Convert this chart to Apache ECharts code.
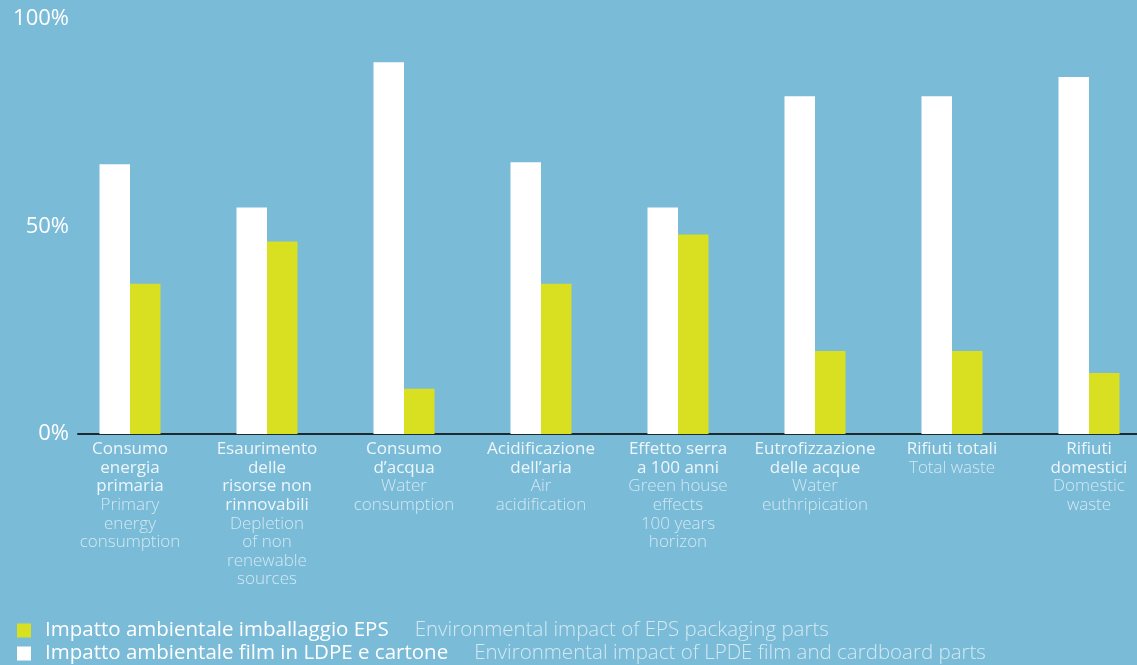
<!DOCTYPE html>
<html>
<head>
<meta charset="utf-8">
<script src="https://cdn.jsdelivr.net/npm/echarts@6/dist/echarts.min.js"></script>
<style>
html,body{margin:0;padding:0;background:#7abbd8;}
#chart{width:1137px;height:665px;}
</style>
</head>
<body>
<div id="chart"></div>
<script>
const categoriesIt = [
  'Consumo\nenergia\nprimaria',
  'Esaurimento\ndelle\nrisorse non\nrinnovabili',
  'Consumo\nd’acqua',
  'Acidificazione\ndell’aria',
  'Effetto serra\na 100 anni',
  'Eutrofizzazione\ndelle acque',
  'Rifiuti totali',
  'Rifiuti\ndomestici'
];
const categoriesEn = [
  'Primary\nenergy\nconsumption',
  'Depletion\nof non\nrenewable\nsources',
  'Water\nconsumption',
  'Air\nacidification',
  'Green house\neffects\n100 years\nhorizon',
  'Water\neuthripication',
  'Total waste',
  'Domestic\nwaste'
];
const ldpeValues = [65, 54.6, 89.6, 65.5, 54.6, 81.4, 81.4, 86];
const epsValues = [36.2, 46.4, 10.9, 36.2, 48.1, 20, 20, 14.7];
const yTicks = [0, 50, 100];
const seriesNamesIt = ['Impatto ambientale imballaggio EPS', 'Impatto ambientale film in LDPE e cartone'];
const seriesNamesEn = ['Environmental impact of EPS packaging parts', 'Environmental impact of LPDE film and cardboard parts'];

const FONT = '"Open Sans", sans-serif';
const chart = echarts.init(document.getElementById('chart'));
const enByName = {};
seriesNamesIt.forEach((n, i) => enByName[n] = seriesNamesEn[i]);

chart.setOption({
  backgroundColor: '#7abbd8',
  animation: false,
  textStyle: { fontFamily: FONT },
  legend: {
    data: [seriesNamesIt[0], seriesNamesIt[1]],
    orient: 'vertical',
    left: 17,
    top: 620,
    padding: 0,
    icon: 'rect',
    itemWidth: 14,
    itemHeight: 14,
    itemGap: 2,
    selectedMode: false,
    formatter: name => '{a|' + name + '}{b|' + enByName[name] + '}',
    textStyle: {
      rich: {
        a: { color: '#ffffff', fontSize: 20.5, lineHeight: 20, fontFamily: FONT, fontWeight: 500, padding: [0, 0, 0, 9] },
        b: { color: '#d3e8f2', fontSize: 20.5, lineHeight: 20, fontFamily: FONT, fontWeight: 300, padding: [0, 0, 0, 26] }
      }
    }
  },
  grid: [
    { left: 61.5, top: 19, width: 1096, height: 415, outerBoundsMode: 'none', containLabel: false },
    { left: 78, right: 0, top: 19, height: 415, outerBoundsMode: 'none', containLabel: false }
  ],
  xAxis: [
    {
      type: 'category',
      gridIndex: 0,
      data: categoriesIt.map((c, i) => i),
      axisLine: { show: false },
      axisTick: { show: false },
      axisLabel: {
        interval: 0,
        hideOverlap: false,
        margin: 6,
        align: 'center',
        verticalAlign: 'top',
        formatter: (v, i) => '{a|' + categoriesIt[i] + '}\n{b|' + categoriesEn[i] + '}',
        rich: {
          a: { color: '#eef6fa', fontSize: 17, lineHeight: 18.6, fontFamily: FONT, fontWeight: 400, align: 'center' },
          b: { color: '#d3e8f2', fontSize: 17, lineHeight: 18.6, fontFamily: FONT, fontWeight: 300, align: 'center' }
        }
      }
    },
    {
      type: 'value',
      gridIndex: 1,
      min: 0,
      max: 1,
      axisLine: { show: true, onZero: false, lineStyle: { color: '#1f2a30', width: 2 } },
      axisTick: { show: false },
      axisLabel: { show: false },
      splitLine: { show: false }
    }
  ],
  yAxis: [
    { type: 'value', gridIndex: 0, min: 0, max: 100, show: false },
    {
      type: 'value',
      gridIndex: 1,
      min: yTicks[0],
      max: yTicks[yTicks.length - 1],
      interval: 50,
      axisLine: { show: false },
      axisTick: { show: false },
      splitLine: { show: false },
      axisLabel: {
        margin: 9,
        formatter: '{value}%',
        color: '#ffffff',
        fontSize: 22,
        fontWeight: 500,
        fontFamily: FONT
      }
    }
  ],
  series: [
    {
      name: seriesNamesIt[1],
      type: 'bar',
      xAxisIndex: 0,
      yAxisIndex: 0,
      data: ldpeValues,
      barWidth: 30.5,
      barGap: '0%',
      itemStyle: { color: '#ffffff' }
    },
    {
      name: seriesNamesIt[0],
      type: 'bar',
      xAxisIndex: 0,
      yAxisIndex: 0,
      data: epsValues,
      barWidth: 30.5,
      barGap: '0%',
      itemStyle: { color: '#d9e021' }
    }
  ]
});
</script>
</body>
</html>
